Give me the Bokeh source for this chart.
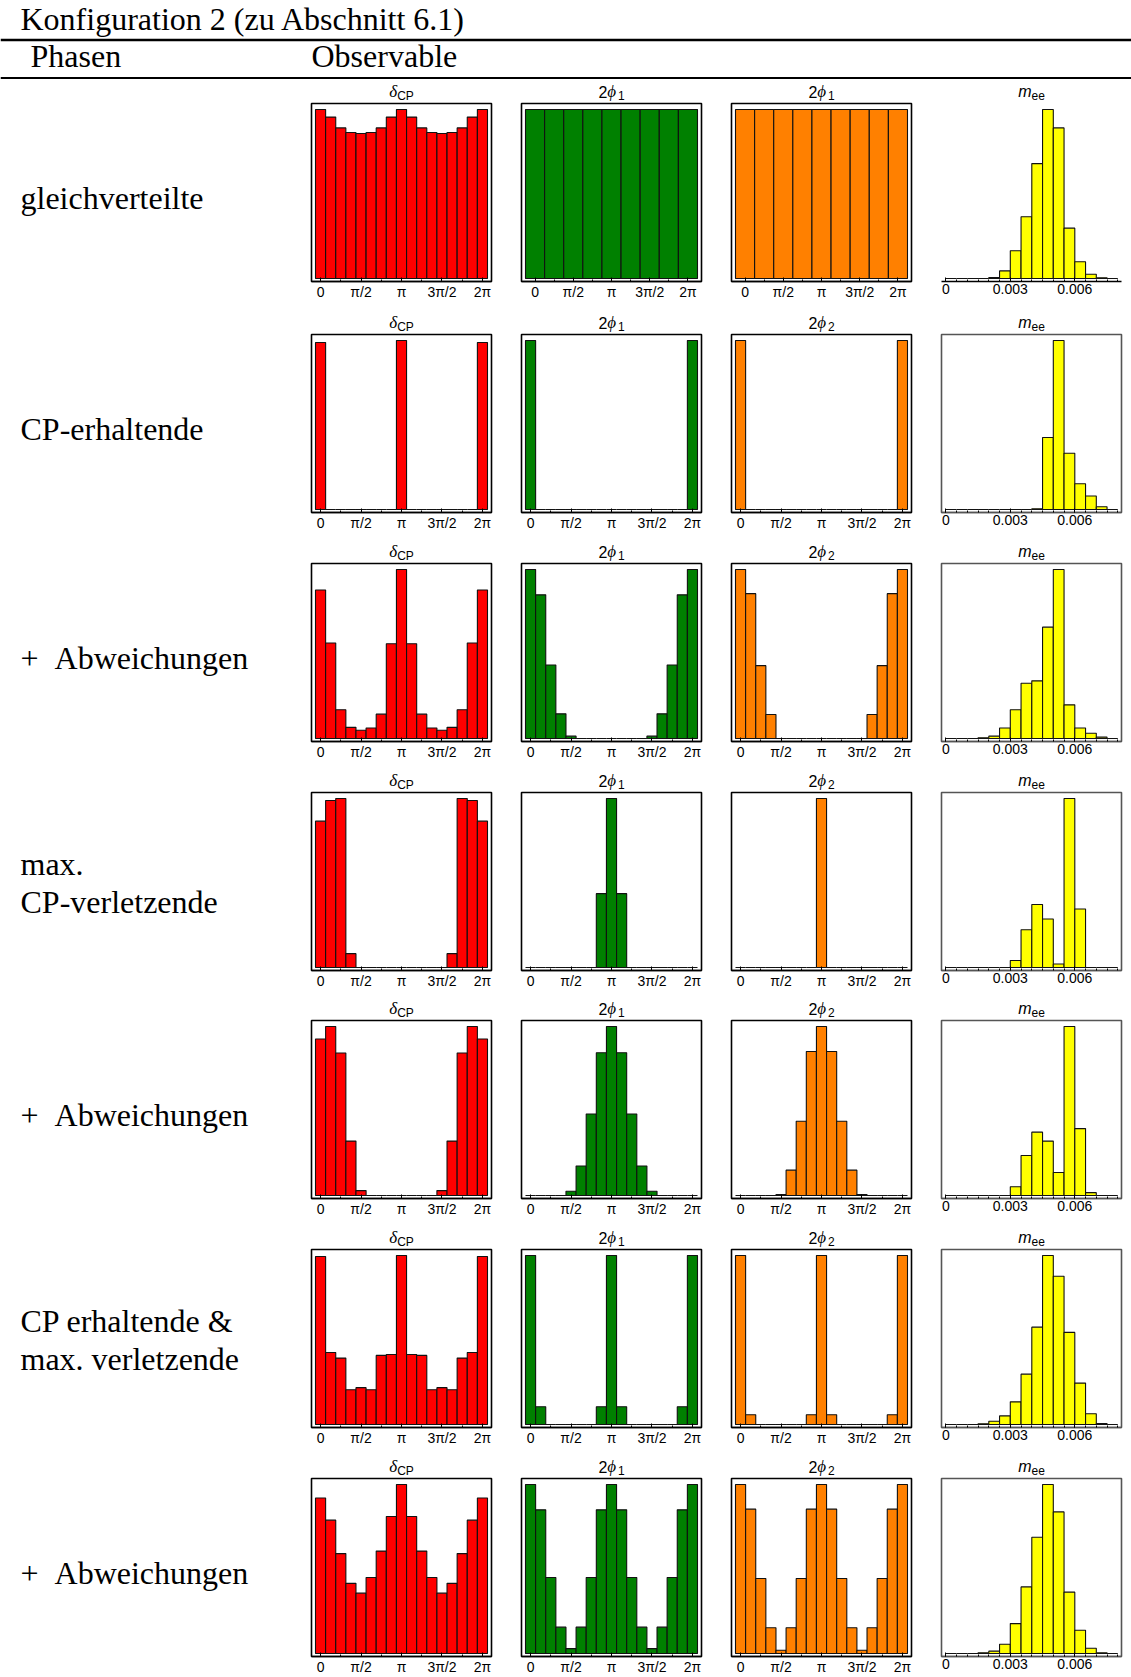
from bokeh.plotting import figure
from bokeh.layouts import column, row
from bokeh.models import Range1d, FixedTicker
from bokeh.core.properties import value
from bokeh.embed import file_html
from bokeh.resources import INLINE

# ---------------- texts ----------------
TITLE = "Konfiguration 2 (zu Abschnitt 6.1)"
HEAD_LEFT = "Phasen"
HEAD_RIGHT = "Observable"
ROW_LABELS = [
    ["gleichverteilte"],
    ["CP-erhaltende"],
    ["+\u2002Abweichungen"],
    ["max.", "CP-verletzende"],
    ["+\u2002Abweichungen"],
    ["CP erhaltende &", "max. verletzende"],
    ["+\u2002Abweichungen"],
]
COL_TITLES = [
    ["delta", "phi1", "phi1", "mee"],
    ["delta", "phi1", "phi2", "mee"],
    ["delta", "phi1", "phi2", "mee"],
    ["delta", "phi1", "phi2", "mee"],
    ["delta", "phi1", "phi2", "mee"],
    ["delta", "phi1", "phi2", "mee"],
    ["delta", "phi1", "phi2", "mee"],
]

# ---------------- bins & ticks ----------------
# phase bin centres in units of pi
PHASE_BINS_17 = [0, 0.125, 0.25, 0.375, 0.5, 0.625, 0.75, 0.875, 1,
                 1.125, 1.25, 1.375, 1.5, 1.625, 1.75, 1.875, 2]
PHASE_BINS_9 = [0, 0.25, 0.5, 0.75, 1, 1.25, 1.5, 1.75, 2]
MEE_EDGES = [0, 0.0005, 0.001, 0.0015, 0.002, 0.0025, 0.003, 0.0035, 0.004,
             0.0045, 0.005, 0.0055, 0.006, 0.0065, 0.007, 0.0075, 0.008]
PHASE_TICKS = [0, 0.5, 1, 1.5, 2]
PHASE_MINOR = [0.25, 0.75, 1.25, 1.75]
PHASE_TICK_LABELS = ["0", "π/2", "π", "3π/2", "2π"]
MEE_TICKS = [0, 0.003, 0.006]
MEE_TICK_LABELS = ["0", "0.003", "0.006"]

# ---------------- data (bar heights, relative to the highest bar = 100) ----------------
delta_cp = [
    [100, 95.5, 89.1, 86.4, 85.8, 86.4, 89.1, 95.5, 100, 95.5, 89.1, 86.4, 85.8, 86.4, 89.1, 95.5, 100],
    [98.8, 0, 0, 0, 0, 0, 0, 0, 100, 0, 0, 0, 0, 0, 0, 0, 98.8],
    [87.9, 56.5, 17.0, 6.6, 4.9, 6.2, 14.4, 56.1, 100, 56.1, 14.4, 6.2, 4.9, 6.6, 17.0, 56.5, 87.9],
    [86.6, 98.8, 100, 8.2, 0, 0, 0, 0, 0, 0, 0, 0, 0, 8.2, 100, 98.8, 86.6],
    [92.6, 100, 84.3, 32.2, 2.9, 0, 0, 0, 0, 0, 0, 0, 2.9, 32.2, 84.3, 100, 92.6],
    [99.4, 42.6, 39.3, 20.6, 21.8, 20.6, 40.9, 41.4, 100, 41.4, 40.9, 20.6, 21.8, 20.6, 39.3, 42.6, 99.4],
    [92.0, 78.9, 59.1, 41.5, 35.7, 45.0, 60.6, 81.1, 100, 81.1, 60.6, 45.0, 35.7, 41.5, 59.1, 78.9, 92.0],
]
phi1 = [
    [100, 100, 100, 100, 100, 100, 100, 100, 100],
    [100, 0, 0, 0, 0, 0, 0, 0, 0, 0, 0, 0, 0, 0, 0, 0, 100],
    [100, 85.0, 43.5, 14.6, 1.4, 0, 0, 0, 0, 0, 0, 0, 1.4, 14.6, 43.5, 85.0, 100],
    [0, 0, 0, 0, 0, 0, 0, 43.7, 100, 43.7, 0, 0, 0, 0, 0, 0, 0],
    [0, 0, 0, 0, 2.5, 17.5, 48.2, 84.5, 100, 84.5, 48.2, 17.5, 2.5, 0, 0, 0, 0],
    [100, 10.5, 0, 0, 0, 0, 0, 10.5, 100, 10.5, 0, 0, 0, 0, 0, 10.5, 100],
    [100, 85.0, 45.0, 15.6, 2.9, 15.6, 45.0, 85.0, 100, 85.0, 45.0, 15.6, 2.9, 15.6, 45.0, 85.0, 100],
]
phi2 = [
    [100, 100, 100, 100, 100, 100, 100, 100, 100],
    [100, 0, 0, 0, 0, 0, 0, 0, 0, 0, 0, 0, 0, 0, 0, 0, 100],
    [100, 85.7, 43.1, 14.2, 0, 0, 0, 0, 0, 0, 0, 0, 0, 14.2, 43.1, 85.7, 100],
    [0, 0, 0, 0, 0, 0, 0, 0, 100, 0, 0, 0, 0, 0, 0, 0, 0],
    [0, 0, 0, 0, 0.6, 15.0, 43.9, 85.2, 100, 85.2, 43.9, 15.0, 0.6, 0, 0, 0, 0],
    [100, 5.8, 0, 0, 0, 0, 0, 5.8, 100, 5.8, 0, 0, 0, 0, 0, 5.8, 100],
    [100, 85.4, 44.4, 15.2, 1.9, 15.2, 44.4, 85.4, 100, 85.4, 44.4, 15.2, 1.9, 15.2, 44.4, 85.4, 100],
]
mee = [
    [0, 0, 0, 0, 0.6, 4.5, 16.4, 36.5, 68.0, 100, 89.1, 29.8, 9.9, 2.5, 0.4, 0],
    [0, 0, 0, 0, 0, 0, 0, 0, 0.4, 42.6, 100, 33.3, 15.2, 8.0, 1.6, 0],
    [0, 0, 0, 0.4, 1.4, 6.2, 17.0, 32.7, 34.1, 65.9, 100, 19.9, 6.2, 3.1, 0.8, 0],
    [0, 0, 0, 0, 0, 0, 4.1, 22.3, 37.3, 28.7, 2.1, 100, 34.6, 0, 0, 0],
    [0, 0, 0, 0, 0, 0, 5.2, 23.7, 37.5, 32.2, 13.6, 100, 39.6, 1.7, 0, 0],
    [0, 0, 0, 0.4, 1.9, 5.1, 13.4, 29.8, 57.6, 100, 87.7, 54.5, 24.5, 6.4, 0.6, 0],
    [0, 0, 0, 0.4, 1.4, 5.5, 17.7, 39.4, 68.8, 100, 83.8, 36.3, 13.8, 3.1, 0.4, 0],
]
COLORS = {"delta": "#ff0000", "phi1": "#008000", "phi2": "#ff8000", "mee": "#ffff00"}

# ---------------- layout constants ----------------
SERIF = "Liberation Serif"
SANS = "Liberation Sans"
PAGE_W = 1131
HEADER_H = 81
FRAME_W = 180
FRAME_H = 178
LABEL_W = 296
COL_PITCH = 210
BORDER_L = 15
FRAME_TOP = [103, 334, 563, 792, 1020, 1249, 1478]   # page coordinates
RULE_TOP = {0: 307, 2: 764, 4: 1221}
RULE_H = 2
PAGE_BOTTOM = 1677
BASE_PX, TOP_PX = 3, 6         # gaps between frame and bar baseline / tallest bar
BASELINE_FIX = 0.31            # svg text sits lower than requested by this many em
BIG = 32

TITLE_PARTS = {
    "delta": [("δ", SERIF, 17, "italic", False), ("CP", SANS, 12, "normal", True)],
    "phi1": [("2", SANS, 16, "normal", False), ("ϕ", SERIF, 17, "italic", False), ("1", SANS, 12, "normal", True)],
    "phi2": [("2", SANS, 16, "normal", False), ("ϕ", SERIF, 17, "italic", False), ("2", SANS, 12, "normal", True)],
    "mee": [("m", SANS, 16, "italic", False), ("ee", SANS, 12, "normal", True)],
}
CHAR_EM = {"δ": 0.47, "ϕ": 0.62, "2": 0.556, "1": 0.556, "C": 0.722, "P": 0.667, "e": 0.556, "m": 0.833}


def text_width(txt, size):
    return sum(CHAR_EM.get(c, 0.55) for c in txt) * size


def base_y(baseline, size):
    return baseline - BASELINE_FIX * size


def blank_fig(w, h):
    f = figure(width=w, height=h, x_range=Range1d(0, w), y_range=Range1d(h, 0),
               toolbar_location=None, output_backend="svg", min_border=0,
               x_axis_location=None, y_axis_location=None, title=None)
    f.grid.visible = False
    f.outline_line_color = None
    return f


def hist_fig(kind, vals, r, bb, right_b):
    if kind == "mee":
        lefts, rights = MEE_EDGES[:-1], MEE_EDGES[1:]
        span = MEE_EDGES[-1] - MEE_EDGES[0]
        xr = Range1d(MEE_EDGES[0] - span * 4.3 / 172, MEE_EDGES[-1] + span * 3.7 / 172)
    else:
        centres = PHASE_BINS_17 if len(vals) == 17 else PHASE_BINS_9
        w = centres[1] - centres[0]
        lefts = [c - w / 2 for c in centres]
        rights = [c + w / 2 for c in centres]
        span = rights[-1] - lefts[0]
        pad = span * 4 / 172
        xr = Range1d(lefts[0] - pad, rights[-1] + pad)
    unit = 100 / (FRAME_H - BASE_PX - TOP_PX)
    yr = Range1d(-BASE_PX * unit, 100 + TOP_PX * unit)
    p = figure(frame_width=FRAME_W, frame_height=FRAME_H, x_range=xr, y_range=yr,
               toolbar_location=None, output_backend="svg", y_axis_location=None,
               title=None, min_border_left=BORDER_L, min_border_right=right_b,
               min_border_top=1, min_border_bottom=bb)
    p.grid.visible = False
    p.background_fill_color = "white"
    p.border_fill_color = "white"
    p.quad(left=lefts, right=rights, bottom=0, top=vals, fill_color=COLORS[kind],
           line_color="#111111", line_width=1.1)

    if kind == "mee":
        frame_col = None if r == 0 else "#555555"
        ticker = FixedTicker(ticks=MEE_TICKS, minor_ticks=MEE_EDGES)
        labels = dict(zip(MEE_TICKS, MEE_TICK_LABELS))
    else:
        frame_col = "black"
        ticker = FixedTicker(ticks=PHASE_TICKS, minor_ticks=PHASE_MINOR)
        labels = dict(zip(PHASE_TICKS, PHASE_TICK_LABELS))
    p.outline_line_color = frame_col
    p.outline_line_width = 1.6
    ax = p.xaxis[0]
    ax.ticker = ticker
    ax.major_label_overrides = labels
    ax.axis_line_color = frame_col if frame_col else "black"
    ax.axis_line_width = 1.6
    ax.major_tick_in = 4
    ax.major_tick_out = 0
    ax.minor_tick_in = 2
    ax.minor_tick_out = 0
    ax.major_tick_line_color = "black"
    ax.minor_tick_line_color = "black"
    ax.major_label_standoff = 2
    ax.major_label_text_font = SANS
    ax.major_label_text_font_size = "14px"
    ax.major_label_text_color = "black"
    return p


def title_strip(r, h):
    s = blank_fig(PAGE_W - LABEL_W, h)
    for c in range(4):
        parts = TITLE_PARTS[COL_TITLES[r][c]]
        total = sum(text_width(t, sz) for t, _, sz, _, _ in parts)
        xc = BORDER_L + FRAME_W / 2 + COL_PITCH * c
        off = xc - total / 2
        for t, font, size, style, sub in parts:
            bl = h - 3 if sub else h - 6
            s.text(x=[off], y=[base_y(bl, size)], text=[t], text_font=value(font),
                   text_font_size=f"{size}px", text_font_style=style, text_align="left",
                   text_baseline="alphabetic", text_color="black")
            off += text_width(t, size)
    return s


# ---------------- header ----------------
header = blank_fig(PAGE_W, HEADER_H)
header.text(x=[20], y=[base_y(28, BIG)], text=[TITLE], text_font=value(SERIF),
            text_font_size=f"{BIG}px", text_baseline="alphabetic", text_color="black")
header.segment(x0=[0], x1=[PAGE_W], y0=[39.5], y1=[39.5], line_width=2.5, line_color="black")
header.text(x=[30, 311], y=[base_y(65, BIG)] * 2, text=[HEAD_LEFT, HEAD_RIGHT],
            text_font=value(SERIF), text_font_size=f"{BIG}px", text_baseline="alphabetic",
            text_color="black")
header.segment(x0=[0], x1=[PAGE_W], y0=[77.5], y1=[77.5], line_width=2, line_color="black")

children = [header]
cursor = HEADER_H
for r in range(7):
    tb = FRAME_TOP[r] - cursor
    if r in RULE_TOP:
        end = RULE_TOP[r]
    elif r < 6:
        end = FRAME_TOP[r + 1] - 22
    else:
        end = PAGE_BOTTOM
    bb = end - (FRAME_TOP[r] + FRAME_H)
    h = tb + FRAME_H + bb

    lab = blank_fig(LABEL_W, h)
    centre = tb + FRAME_H / 2
    lines = ROW_LABELS[r]
    bls = [centre + 15] if len(lines) == 1 else [centre - 7.5, centre + 30]
    lab.text(x=[20] * len(lines), y=[base_y(b, BIG) for b in bls], text=lines,
             text_font=value(SERIF), text_font_size=f"{BIG}px",
             text_baseline="alphabetic", text_color="black")

    series = [delta_cp[r], phi1[r], phi2[r], mee[r]]
    kinds = ["delta", "phi1", "phi2", "mee"]
    hists = [hist_fig(kinds[c], series[c], r, bb, 10 if c == 3 else 15) for c in range(4)]
    right = column(title_strip(r, tb - 1), row(*hists, spacing=0), spacing=0)
    children.append(row(lab, right, spacing=0))
    cursor = end
    if r in RULE_TOP:
        sep = blank_fig(PAGE_W, RULE_H)
        sep.background_fill_color = "black"
        sep.border_fill_color = "black"
        children.append(sep)
        cursor += RULE_H

layout = column(*children, spacing=0)
open("out.html", "w").write(file_html(layout, INLINE))
